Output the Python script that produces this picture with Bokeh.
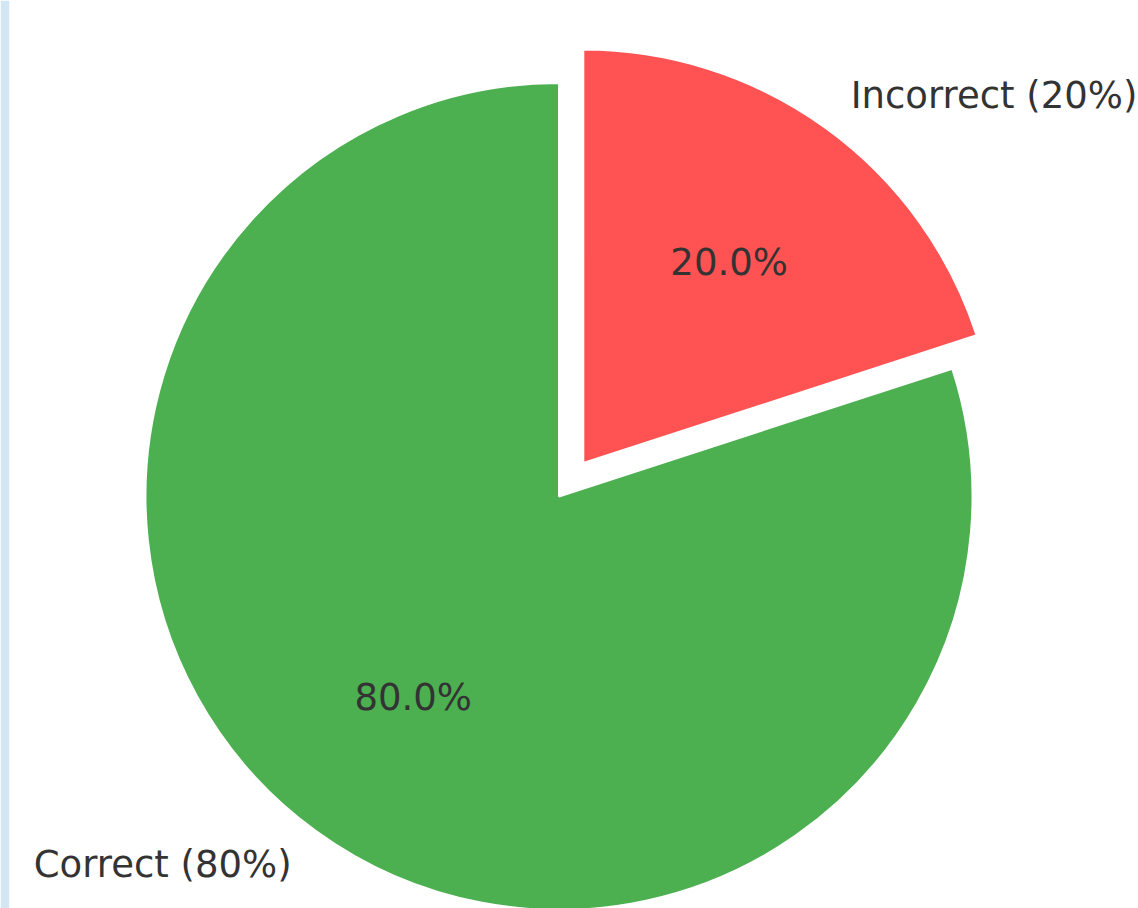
import numpy as np
from bokeh.plotting import figure
from bokeh.models import Range1d
from bokeh.core.properties import value
from bokeh.embed import file_html
from bokeh.resources import INLINE

# ---- data ----
labels = ["Correct", "Incorrect"]
values = [80, 20]
explode = [0.0, 0.1]
colors = ["#4caf50", "#ff5252"]
start_angle_deg = 90

# ---- geometry (matplotlib-like pie, counterclockwise from 90 deg) ----
vals = np.array(values, dtype=float)
fracs = vals / vals.sum()
ends = start_angle_deg + 360 * np.cumsum(fracs)
starts = np.concatenate([[start_angle_deg], ends[:-1]])
mids = np.deg2rad((starts + ends) / 2)

W, H = 1138, 908
STRIP = 9
scale = 413.5  # px per unit radius
cx_px, cy_px = 558.5, 496.0

p = figure(width=W, height=H, output_backend="svg", toolbar_location=None,
           x_axis_type=None, y_axis_type=None, min_border=0, min_border_left=STRIP,
           x_range=Range1d(-(cx_px - STRIP) / scale, (W - cx_px) / scale),
           y_range=Range1d(-(H - cy_px) / scale, cy_px / scale))
p.grid.visible = False
p.outline_line_color = None
p.background_fill_color = "white"
p.border_fill_color = "#d2e6f3"

ex = np.array(explode)
ox = ex * np.cos(mids)
oy = ex * np.sin(mids)

p.wedge(x=ox, y=oy, radius=1.0, start_angle=np.deg2rad(starts), end_angle=np.deg2rad(ends),
        fill_color=colors, line_color="white", line_width=2)

FS = "37px"

# percent labels
pct = [f"{f*100:.1f}%" for f in fracs]
p.text(x=ox + 0.6 * np.cos(mids), y=oy + 0.6 * np.sin(mids), text=pct,
       text_align="center", text_baseline="middle", text_color="#333333",
       text_font=value("DejaVu Sans"), text_font_size=FS)

# outer labels
outer = [f"{l} ({int(v)}%)" for l, v in zip(labels, values)]
lx = ox + 1.1 * np.cos(mids)
ly = oy + 1.1 * np.sin(mids)
aligns = ["right" if x < 0 else "left" for x in np.cos(mids)]
for i in range(len(labels)):
    p.text(x=[lx[i]], y=[ly[i]], text=[outer[i]], text_align=aligns[i],
           text_baseline="middle", text_color="#333333",
           text_font=value("DejaVu Sans"), text_font_size=FS)

open("out.html", "w").write(file_html(p, INLINE))
